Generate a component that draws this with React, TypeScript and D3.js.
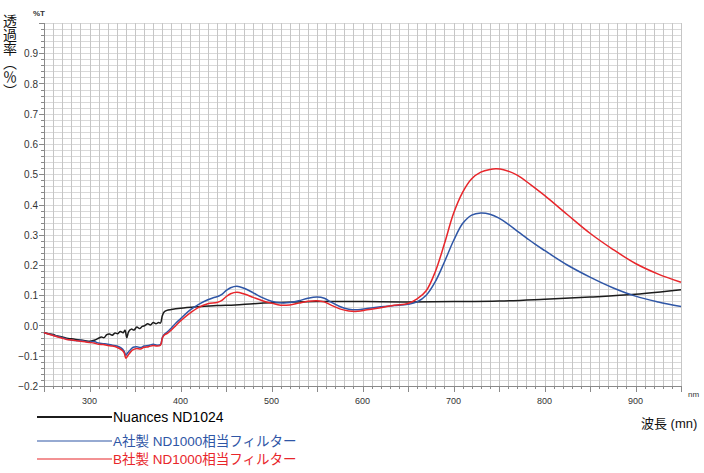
import * as d3 from 'd3'

// Transmittance spectra (%T)
const nuancesNm = [250, 255, 260, 265, 270, 275, 280, 285, 290, 295, 300, 303, 306, 310, 313, 316, 319, 322, 325, 328, 331, 334, 337, 339, 341, 343, 346, 349, 352, 355, 358, 361, 364, 367, 370, 373, 376, 378, 380, 382, 385, 390, 400, 420, 440, 460, 480, 500, 550, 600, 650, 700, 750, 800, 850, 900, 950]
const nuancesT = [-0.024, -0.027, -0.03, -0.035, -0.038, -0.042, -0.044, -0.046, -0.048, -0.05, -0.052, -0.05, -0.048, -0.042, -0.038, -0.04, -0.03, -0.028, -0.032, -0.025, -0.027, -0.02, -0.024, -0.016, -0.04, -0.02, -0.012, -0.015, -0.005, -0.01, -0.003, 0.0, 0.006, 0.002, 0.01, 0.006, 0.01, 0.008, 0.032, 0.045, 0.05, 0.053, 0.057, 0.062, 0.066, 0.068, 0.072, 0.075, 0.079, 0.079, 0.078, 0.079, 0.081, 0.087, 0.094, 0.103, 0.118]

const aNm = [250, 255, 260, 265, 270, 275, 280, 285, 290, 295, 300, 305, 310, 315, 320, 325, 330, 335, 338, 340, 342, 345, 348, 352, 356, 360, 365, 370, 374, 378, 380, 382, 386, 390, 395, 400, 410, 420, 430, 436, 440, 445, 450, 455, 462, 470, 480, 490, 500, 510, 520, 530, 540, 550, 558, 565, 575, 585, 595, 605, 620, 635, 650, 660, 670, 680, 690, 700, 710, 720, 730, 740, 750, 760, 770, 780, 790, 800, 825, 850, 875, 900, 925, 950]
const aT = [-0.024, -0.028, -0.032, -0.036, -0.04, -0.045, -0.048, -0.05, -0.049, -0.052, -0.055, -0.053, -0.058, -0.06, -0.062, -0.065, -0.068, -0.075, -0.085, -0.098, -0.09, -0.08, -0.072, -0.07, -0.073, -0.068, -0.066, -0.062, -0.065, -0.063, -0.04, -0.03, -0.02, -0.008, 0.008, 0.022, 0.05, 0.07, 0.085, 0.092, 0.095, 0.102, 0.115, 0.125, 0.13, 0.123, 0.108, 0.092, 0.08, 0.075, 0.076, 0.082, 0.09, 0.094, 0.09, 0.078, 0.063, 0.054, 0.052, 0.056, 0.062, 0.066, 0.07, 0.078, 0.1, 0.145, 0.21, 0.28, 0.337, 0.365, 0.372, 0.368, 0.355, 0.335, 0.312, 0.29, 0.268, 0.248, 0.2, 0.16, 0.125, 0.097, 0.078, 0.063]

const bNm = [250, 255, 260, 265, 270, 275, 280, 285, 290, 295, 300, 305, 310, 315, 320, 325, 330, 335, 338, 340, 342, 345, 348, 352, 356, 360, 365, 370, 374, 378, 380, 382, 386, 390, 395, 400, 410, 420, 430, 440, 445, 450, 455, 462, 470, 480, 490, 500, 510, 520, 530, 540, 550, 558, 565, 575, 585, 595, 605, 620, 635, 650, 660, 670, 680, 690, 700, 710, 720, 730, 740, 747, 755, 770, 785, 800, 825, 850, 875, 900, 925, 950]
const bT = [-0.024, -0.028, -0.033, -0.038, -0.042, -0.046, -0.048, -0.05, -0.052, -0.054, -0.056, -0.058, -0.062, -0.063, -0.066, -0.068, -0.072, -0.08, -0.09, -0.108, -0.1, -0.088, -0.08, -0.076, -0.078, -0.072, -0.07, -0.066, -0.068, -0.065, -0.042, -0.032, -0.025, -0.015, 0.0, 0.015, 0.04, 0.06, 0.072, 0.076, 0.082, 0.095, 0.105, 0.11, 0.104, 0.093, 0.082, 0.074, 0.067, 0.068, 0.074, 0.08, 0.082, 0.078, 0.068, 0.055, 0.048, 0.047, 0.052, 0.059, 0.067, 0.073, 0.088, 0.115, 0.178, 0.27, 0.37, 0.44, 0.485, 0.507, 0.516, 0.518, 0.515, 0.497, 0.465, 0.43, 0.367, 0.305, 0.252, 0.205, 0.17, 0.143]

const series = [
  { label: 'Nuances ND1024', nm: nuancesNm, t: nuancesT, color: '#1c1c1c', text: '#000' },
  { label: 'A社製 ND1000相当フィルター', nm: aNm, t: aT, color: '#2f56a6', text: '#2f56a6' },
  { label: 'B社製 ND1000相当フィルター', nm: bNm, t: bT, color: '#e8262b', text: '#e8262b' },
]

const xTicks = [300, 400, 500, 600, 700, 800, 900]
const yTicks = [-0.2, -0.1, 0.0, 0.1, 0.2, 0.3, 0.4, 0.5, 0.6, 0.7, 0.8, 0.9]

const W = 704
const H = 473
const PLOT = { left: 44, right: 681, top: 23, bottom: 386 }
const FONT = '"Liberation Sans", Arial, "Noto Sans CJK JP", sans-serif'

export default function App() {
  const x = d3.scaleLinear().domain([250, 950]).range([PLOT.left, PLOT.right])
  const y = d3.scaleLinear().domain([-0.2, 1.0]).range([PLOT.bottom, PLOT.top])

  const vGrid = d3.range(250, 951, 10)
  const hGrid = d3.range(0, 61).map(i => -0.2 + i * 0.02)

  const line = d3.line<[number, number]>()
    .x(d => x(d[0]))
    .y(d => y(d[1]))
    .curve(d3.curveCatmullRom.alpha(0.5))

  const legendY = [417, 441, 459]

  return (
    <svg width={W} height={H} style={{ position: 'absolute', left: 0, top: 0, background: '#fff' }} fontFamily={FONT}>
      {/* grid */}
      {hGrid.map((v, i) => (
        <line key={'h' + i} x1={PLOT.left} x2={PLOT.right} y1={Math.round(y(v)) + 0.5} y2={Math.round(y(v)) + 0.5}
          stroke="#d9d9d9" strokeWidth={1} />
      ))}
      {vGrid.map(v => (
        <line key={'v' + v} x1={Math.round(x(v)) + 0.5} x2={Math.round(x(v)) + 0.5} y1={PLOT.top} y2={PLOT.bottom}
          stroke="#c6c6c6" strokeWidth={1} />
      ))}

      {/* axes */}
      <line x1={PLOT.left + 0.5} x2={PLOT.left + 0.5} y1={PLOT.top} y2={PLOT.bottom} stroke="#8a8a8a" />
      <line x1={PLOT.left} x2={PLOT.right} y1={PLOT.bottom + 0.5} y2={PLOT.bottom + 0.5} stroke="#8a8a8a" />
      {hGrid.map((v, i) => (
        <line key={'yt' + i} x1={PLOT.left - (i % 5 === 0 ? 5 : 3)} x2={PLOT.left}
          y1={Math.round(y(v)) + 0.5} y2={Math.round(y(v)) + 0.5} stroke="#8a8a8a" />
      ))}
      {vGrid.map(v => (
        <line key={'xt' + v} x1={Math.round(x(v)) + 0.5} x2={Math.round(x(v)) + 0.5}
          y1={PLOT.bottom} y2={PLOT.bottom + (v % 50 === 0 ? 6 : 3)} stroke="#8a8a8a" />
      ))}
      {yTicks.map(v => (
        <text key={'yl' + v} x={38} y={y(v) + 4} textAnchor="end" fontSize={10} fill="#333">
          {d3.format('.1f')(v)}
        </text>
      ))}
      {xTicks.map(v => (
        <text key={'xl' + v} x={x(v)} y={404} textAnchor="middle" fontSize={9} fill="#333">{v}</text>
      ))}
      <text x={33} y={16} fontSize={8} fontWeight="bold" fill="#333">%T</text>
      <text x={688} y={397} fontSize={8} fill="#333">nm</text>
      <text x={641} y={428} fontSize={13} fill="#111">波長 (mn)</text>
      <text x={10} y={14} fontSize={14} fill="#111" style={{ writingMode: 'vertical-rl' }}
        fontFamily='"Noto Sans CJK JP", sans-serif'>透過率（％）</text>

      {/* series */}
      {series.map(s => (
        <path key={s.label} d={line(s.nm.map((n, i) => [n, s.t[i]] as [number, number])) ?? ''}
          fill="none" stroke={s.color} strokeWidth={1.5} strokeLinejoin="round" />
      ))}

      {/* legend */}
      {series.map((s, i) => (
        <g key={'lg' + i}>
          <line x1={37} x2={112} y1={legendY[i]} y2={legendY[i]} stroke={s.color} strokeWidth={i === 0 ? 2 : 1.2} />
          <text x={113} y={legendY[i] + 5} fontSize={i === 0 ? 14 : 13.5} fill={s.text}>{s.label}</text>
        </g>
      ))}
    </svg>
  )
}
